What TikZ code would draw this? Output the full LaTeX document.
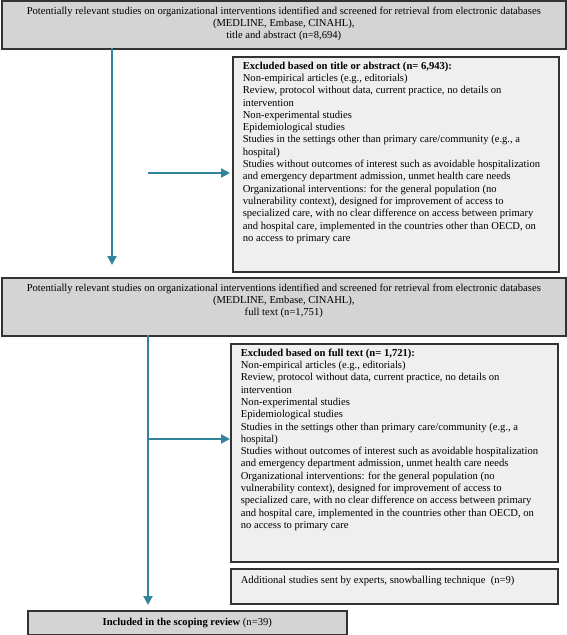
\documentclass[tikz,border=0pt]{standalone}
\usepackage{fontspec}
\setmainfont{Liberation Serif}
\usepackage{tikz}
\usetikzlibrary{arrows.meta,positioning}
\usepackage{xcolor}
\definecolor{flowteal}{HTML}{31849B}
\definecolor{stagegray}{HTML}{D4D4D4}
\definecolor{exclgray}{HTML}{EFEFEF}
\definecolor{framegray}{HTML}{333333}

\begin{document}
\begin{tikzpicture}[x=1pt,y=-1pt,
    stage/.style={draw=framegray,line width=1.6pt,fill=stagegray,anchor=north west,
      inner sep=0pt,font=\fontsize{10.6}{12.3}\selectfont},
    excl/.style={stage,fill=exclgray,inner xsep=10pt},
    flow/.style={flowteal,line width=2pt,-{Triangle[length=9pt,width=9pt]}}]
  \useasboundingbox (0,0) rectangle (567,635);

  \node[stage] (title abstract) at (1,0) {\parbox[c][48pt][t]{564pt}{\vspace*{6pt}\centering
    Potentially relevant studies on organizational interventions identified and screened for retrieval from electronic databases\\
    (MEDLINE, Embase, CINAHL),\\
    title and abstract (n=8,694)}};

  \node[excl] (title excl) at (232,56) {\parbox[c][215pt][t]{306pt}{\vspace*{5pt}\raggedright
    \textbf{Excluded based on title or abstract (n= 6,943):}\\
    Non-empirical articles (e.g., editorials)\\
    Review, protocol without data, current practice, no details on\\
    intervention\\
    Non-experimental studies\\
    Epidemiological studies\\
    Studies in the settings other than primary care/community (e.g., a\\
    hospital)\\
    Studies without outcomes of interest such as avoidable hospitalization\\
    and emergency department admission, unmet health care needs\\
    Organizational interventions: for the general population (no\\
    vulnerability context), designed for improvement of access to\\
    specialized care, with no clear difference on access between primary\\
    and hospital care, implemented in the countries other than OECD, on\\
    no access to primary care}};

  \node[stage] (full text) at (1,277) {\parbox[c][58pt][t]{564pt}{\vspace*{6pt}\centering
    Potentially relevant studies on organizational interventions identified and screened for retrieval from electronic databases\\
    (MEDLINE, Embase, CINAHL),\\
    full text (n=1,751)}};

  \node[excl] (full excl) at (230,343) {\parbox[c][218pt][t]{307pt}{\vspace*{5pt}\raggedright
    \textbf{Excluded based on full text (n= 1,721):}\\
    Non-empirical articles (e.g., editorials)\\
    Review, protocol without data, current practice, no details on\\
    intervention\\
    Non-experimental studies\\
    Epidemiological studies\\
    Studies in the settings other than primary care/community (e.g., a\\
    hospital)\\
    Studies without outcomes of interest such as avoidable hospitalization\\
    and emergency department admission, unmet health care needs\\
    Organizational interventions: for the general population (no\\
    vulnerability context), designed for improvement of access to\\
    specialized care, with no clear difference on access between primary\\
    and hospital care, implemented in the countries other than OECD, on\\
    no access to primary care}};

  \node[excl] (additional) at (230,568) {\parbox[c][35pt][t]{307pt}{\vspace*{7pt}\raggedright
    Additional studies sent by experts, snowballing technique\ \ (n=9)}};

  \node[stage] (included) at (27,610) {\parbox[c][24pt][c]{319pt}{\centering
    \textbf{Included in the scoping review} (n=39)}};

  \coordinate (trunk 1) at (112,48);
  \coordinate (side 1) at (148,173);
  \coordinate (trunk 2) at (148,335);
  \coordinate (side 2) at (148,439);

  \draw[flow] (trunk 1) -- ([yshift=12pt]full text.north -| trunk 1);
  \draw[flow] (side 1) -- ([xshift=-2pt]title excl.west |- side 1);
  \draw[flow] (trunk 2) -- ([yshift=5pt]included.north -| trunk 2);
  \draw[flow] (side 2) -- (full excl.west |- side 2);
\end{tikzpicture}
\end{document}
